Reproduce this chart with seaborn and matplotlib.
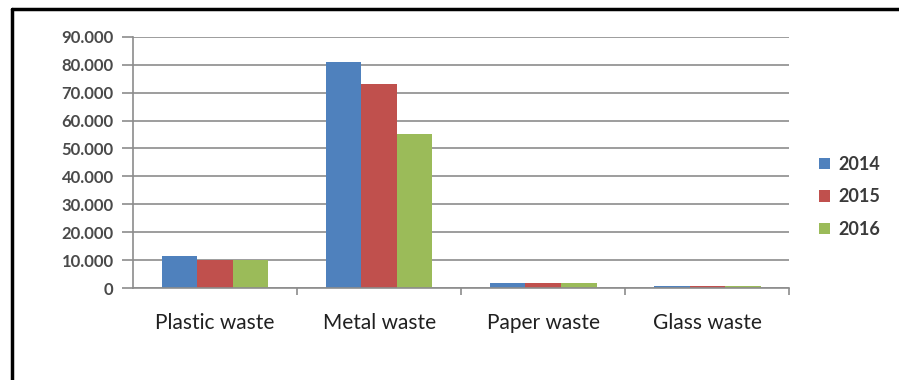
import pandas as pd
import seaborn as sns
import matplotlib.pyplot as plt
from matplotlib.lines import Line2D
from matplotlib.ticker import FuncFormatter

# data
categories = ["Plastic waste", "Metal waste", "Paper waste", "Glass waste"]
years = ["2014", "2015", "2016"]
v2014 = [11500, 81000, 1800, 700]
v2015 = [10000, 73000, 1900, 700]
v2016 = [10000, 55200, 1900, 700]
colors = ["#4F81BD", "#C0504D", "#9BBB59"]

df = pd.DataFrame({
    "waste": categories * 3,
    "year": [y for y in years for _ in categories],
    "value": v2014 + v2015 + v2016,
})

sns.set_style("white")
plt.rcParams["font.family"] = ["Lato", "DejaVu Sans"]

fig = plt.figure(figsize=(8.99, 3.8), dpi=100)
ax = fig.add_axes([0.148, 0.242, 0.73, 0.661])

sns.barplot(data=df, x="waste", y="value", hue="year", palette=colors,
            width=0.65, gap=0, saturation=1, linewidth=0, ax=ax, legend=True)

ax.set_ylim(0, 90000)
ax.set_yticks(range(0, 90001, 10000))
ax.yaxis.set_major_formatter(FuncFormatter(lambda v, p: f"{int(v):,}".replace(",", ".")))
ax.set_xlim(-0.5, 3.5)
ax.set_xlabel("")
ax.set_ylabel("")
ax.grid(axis="y", color="#8c8c8c", linewidth=1.2)
ax.set_axisbelow(True)
for s in ["top", "right"]:
    ax.spines[s].set_visible(False)
for s in ["left", "bottom"]:
    ax.spines[s].set_color("#8c8c8c")
    ax.spines[s].set_linewidth(1.2)

ax.tick_params(axis="y", direction="out", length=8, width=1.2, color="#8c8c8c",
               labelsize=12, labelcolor="#4a4a4a", left=True, pad=6)
for t in ax.get_yticklabels():
    t.set_fontweight("bold")
ax.tick_params(axis="x", length=0, labelsize=15, labelcolor="#202020", pad=18)
ax.set_xticks([0.5, 1.5, 2.5, 3.5], minor=True)
ax.tick_params(axis="x", which="minor", direction="out", length=5, width=1.2,
               color="#8c8c8c", bottom=True)

leg = ax.legend(loc="center left", bbox_to_anchor=(1.02, 0.363), frameon=False,
                fontsize=13, handlelength=0.6, handleheight=0.6, labelspacing=0.85,
                handletextpad=0.5, labelcolor="#3a3a3a")
for t in leg.get_texts():
    t.set_fontweight("bold")

# outer frame (left and top edges visible)
fig.add_artist(Line2D([0.0135, 0.0135], [0, 0.977], color="black", lw=2.5,
                      transform=fig.transFigure))
fig.add_artist(Line2D([0.0135, 1], [0.977, 0.977], color="black", lw=2.5,
                      transform=fig.transFigure))

fig.savefig("out.png", dpi=100)
